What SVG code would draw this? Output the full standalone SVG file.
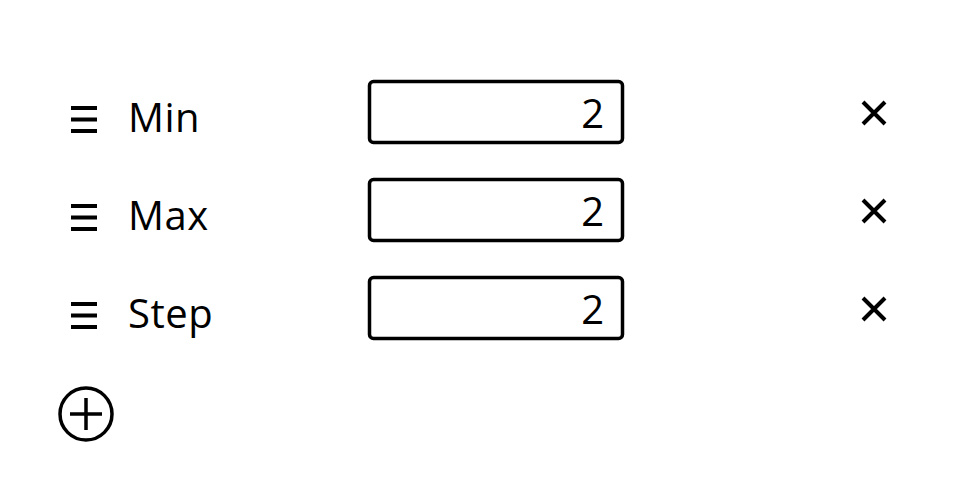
<svg xmlns="http://www.w3.org/2000/svg" width="960" height="494" viewBox="0 0 960 494">
<style>
.lbl{font-family:"Open Sans","Noto Sans",sans-serif;font-size:40px;fill:#000;letter-spacing:0.5px}
.val{font-family:"Open Sans","Noto Sans",sans-serif;font-size:40px;fill:#000;text-anchor:end}
.box{fill:#fff;stroke:#000;stroke-width:3.5}
.ic{stroke:#000;stroke-width:4;fill:none}
.x{stroke:#000;stroke-width:4;fill:none}
</style>
<rect width="960" height="494" fill="#fff"/>
<defs>
<g id="ham"><path class="ic" d="M71 108H97M71 119.5H97M71 131H97"/></g>
<g id="cross"><path class="x" d="M863 102L885 124M885 102L863 124"/></g>
</defs>
<g id="row-min">
<use href="#ham"/>
<text class="lbl" x="128" y="132">Min</text>
<rect class="box" x="369.5" y="81.5" width="253" height="61" rx="4"/>
<text class="val" x="604" y="128">2</text>
<use href="#cross"/>
</g>
<g id="row-max">
<use href="#ham" y="98"/>
<text class="lbl" x="128" y="230">Max</text>
<rect class="box" x="369.5" y="179.5" width="253" height="61" rx="4"/>
<text class="val" x="604" y="226">2</text>
<use href="#cross" y="98"/>
</g>
<g id="row-step">
<use href="#ham" y="196"/>
<text class="lbl" x="128" y="328">Step</text>
<rect class="box" x="369.5" y="277.5" width="253" height="61" rx="4"/>
<text class="val" x="604" y="324">2</text>
<use href="#cross" y="196"/>
</g>
<g id="add">
<circle cx="86" cy="414" r="26" fill="none" stroke="#000" stroke-width="3.5"/>
<path d="M70 414H102M86 398V430" stroke="#000" stroke-width="3.5"/>
</g>
<g id="connectors"/>
</svg>
